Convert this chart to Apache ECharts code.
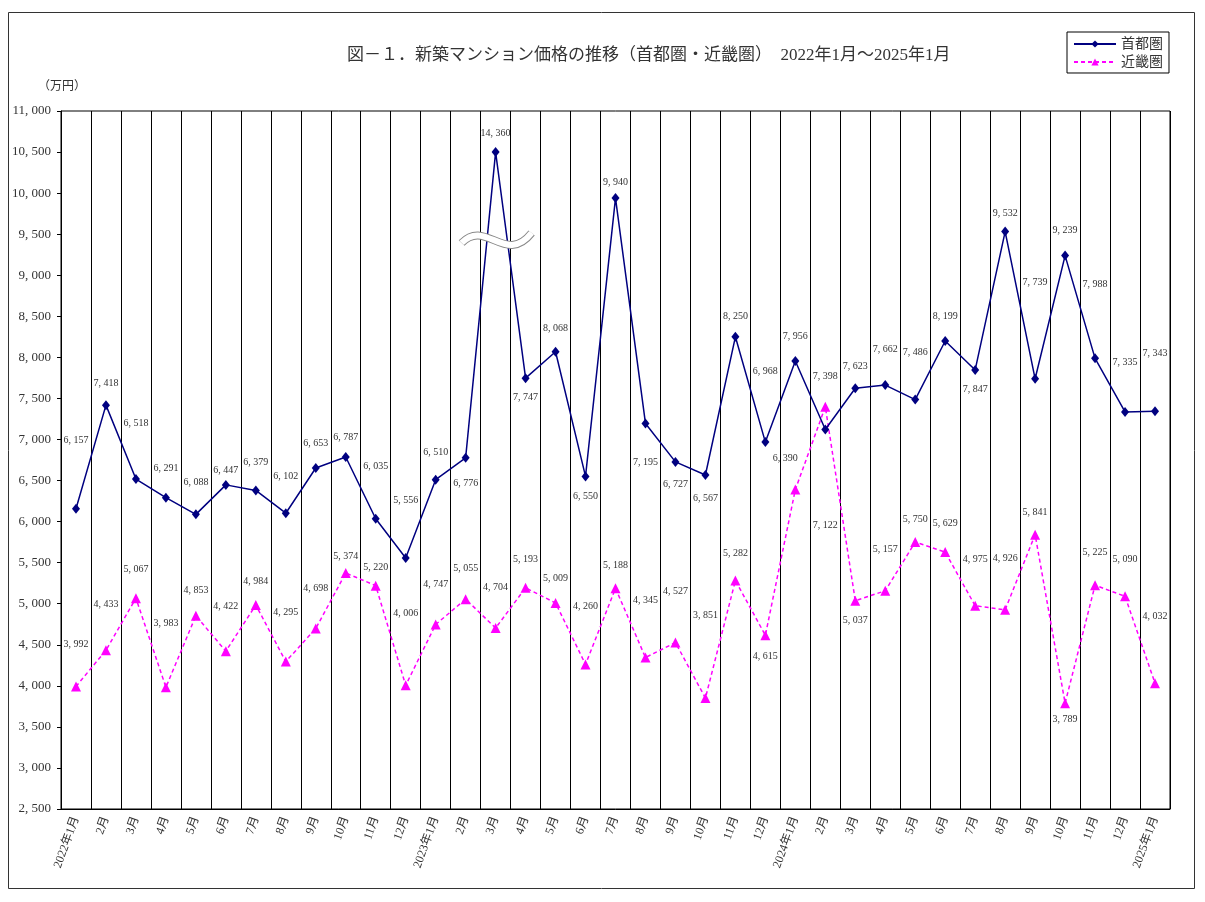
<!DOCTYPE html>
<html>
<head>
<meta charset="utf-8">
<script src="https://cdn.jsdelivr.net/npm/echarts@6/dist/echarts.min.js"></script>
<style>
  html, body { margin: 0; padding: 0; background: #fff; }
</style>
</head>
<body>
<div id="main" style="width: 1205px;height:902px;"></div>
<script>
// 月ラベル
var months = ['2022年1月', '2月', '3月', '4月', '5月', '6月', '7月', '8月', '9月', '10月', '11月', '12月',
  '2023年1月', '2月', '3月', '4月', '5月', '6月', '7月', '8月', '9月', '10月', '11月', '12月',
  '2024年1月', '2月', '3月', '4月', '5月', '6月', '7月', '8月', '9月', '10月', '11月', '12月',
  '2025年1月']

// 首都圏（万円）
var shuto = [6157, 7418, 6518, 6291, 6088, 6447, 6379, 6102, 6653, 6787, 6035, 5556,
  6510, 6776, 14360, 7747, 8068, 6550, 9940, 7195, 6727, 6567, 8250, 6968,
  7956, 7122, 7623, 7662, 7486, 8199, 7847, 9532, 7739, 9239, 7988, 7335,
  7343]

// 近畿圏（万円）
var kinki = [3992, 4433, 5067, 3983, 4853, 4422, 4984, 4295, 4698, 5374, 5220, 4006,
  4747, 5055, 4704, 5193, 5009, 4260, 5188, 4345, 4527, 3851, 5282, 4615,
  6390, 7398, 5037, 5157, 5750, 5629, 4975, 4926, 5841, 3789, 5225, 5090,
  4032]

var yTicks = { min: 2500, max: 11000, interval: 500 }
var breakAt = 10500 // 軸の上限を超える値はここで打ち切り（波線で省略）

// データラベルの縦ずらし（px）
var shutoLabelDy = [-68, -22, -56, -29, -32, -15, -28, -37, -25, -20, -52, -58,
  -27, 26, -19, 19, -23, 20, -16, 39, 22, 23, -20, -71,
  -25, 96, -22, -36, -47, -25, 19, -18, -96, -25, -74, -50, -58]
var kinkiLabelDy = [-42, -46, -29, -64, -25, -45, -24, -49, -40, -17, -18, -72,
  -40, -31, -41, -28, -25, -58, -23, -57, -51, -83, -27, 21,
  -31, -30, 20, -41, -23, -29, -46, -51, -22, 16, -33, -37, -67]
var kinkiLabelDx = { 24: -10 }

var fontFamily = '"Liberation Serif", "Noto Sans CJK JP", serif'

function fmt (v) {
  return String(v).replace(/\B(?=(\d{3})+(?!\d))/g, ', ')
}

function buildData (values, dyList, dxMap) {
  return values.map(function (v, i) {
    return {
      value: Math.min(v, breakAt),
      label: { offset: [(dxMap && dxMap[i]) || 0, dyList[i]] }
    }
  })
}

var labelBase = {
  show: true,
  position: 'inside',
  color: '#333',
  fontSize: 10,
  fontFamily: fontFamily
}

var option = {
  backgroundColor: '#fff',
  animation: false,
  title: {
    text: '図－１．新築マンション価格の推移（首都圏・近畿圏）　2022年1月～2025年1月',
    left: 342,
    top: 42,
    textStyle: {
      color: '#333',
      fontSize: 17,
      fontWeight: 'normal',
      fontFamily: fontFamily
    }
  },
  legend: {
    orient: 'vertical',
    left: 1067,
    top: 32,
    padding: [5, 6, 4, 6],
    itemGap: 4,
    itemWidth: 42,
    itemHeight: 9,
    borderColor: '#000',
    borderWidth: 1,
    borderRadius: 0,
    textStyle: { color: '#333', fontSize: 14, fontFamily: fontFamily },
    data: ['首都圏', '近畿圏']
  },
  grid: {
    left: 61,
    right: 35,
    top: 111,
    bottom: 93,
    show: true,
    borderColor: '#000',
    borderWidth: 1
  },
  xAxis: {
    type: 'category',
    data: months,
    boundaryGap: true,
    axisLine: { lineStyle: { color: '#000' } },
    axisTick: { show: false },
    splitLine: {
      show: true,
      interval: 0,
      lineStyle: { color: '#000', width: 1 }
    },
    axisLabel: {
      interval: 0,
      rotate: 70,
      margin: 8,
      color: '#333',
      fontSize: 12,
      fontFamily: fontFamily
    }
  },
  yAxis: {
    type: 'value',
    min: yTicks.min,
    max: yTicks.max,
    interval: yTicks.interval,
    axisLine: { show: true, lineStyle: { color: '#000' } },
    axisTick: { show: true, length: 4, lineStyle: { color: '#000' } },
    splitLine: { show: false },
    axisLabel: {
      margin: 10,
      color: '#333',
      fontSize: 13,
      fontFamily: fontFamily,
      formatter: function (v) { return fmt(v) }
    }
  },
  series: [
    {
      name: '近畿圏',
      type: 'line',
      data: buildData(kinki, kinkiLabelDy, kinkiLabelDx),
      symbol: 'triangle',
      symbolSize: 10,
      color: '#FF00FF',
      lineStyle: { color: '#FF00FF', width: 1.5, type: [4, 3] },
      itemStyle: { color: '#FF00FF' },
      label: Object.assign({}, labelBase, {
        formatter: function (p) { return fmt(kinki[p.dataIndex]) }
      }),
      z: 2
    },
    {
      name: '首都圏',
      type: 'line',
      data: buildData(shuto, shutoLabelDy),
      symbol: 'diamond',
      symbolSize: [8, 10],
      color: '#000080',
      lineStyle: { color: '#000080', width: 1.5 },
      itemStyle: { color: '#000080' },
      label: Object.assign({}, labelBase, {
        formatter: function (p) { return fmt(shuto[p.dataIndex]) }
      }),
      z: 3
    }
  ]
}

var myChart = echarts.init(document.getElementById('main'))
myChart.setOption(option)

// 外枠・単位・省略の波線
var brk = myChart.convertToPixel({ xAxisIndex: 0, yAxisIndex: 0 }, [14, 9430])
var wave = { x1: -34, y1: 3, cpx1: -10, cpy1: -22, cpx2: 10, cpy2: 26, x2: 36, y2: -7 }
myChart.setOption({
  graphic: [
    {
      type: 'rect',
      shape: { x: 8.5, y: 12.5, width: 1186, height: 876 },
      style: { fill: 'none', stroke: '#333', lineWidth: 1 },
      silent: true,
      z: 0
    },
    {
      type: 'text',
      left: 38,
      top: 81,
      style: { text: '（万円）', fill: '#333', fontSize: 12, fontFamily: fontFamily }
    },
    {
      type: 'bezierCurve',
      x: brk[0],
      y: brk[1],
      shape: wave,
      style: { stroke: '#888', lineWidth: 8, fill: 'none' },
      z: 100
    },
    {
      type: 'bezierCurve',
      x: brk[0],
      y: brk[1],
      shape: wave,
      style: { stroke: '#fff', lineWidth: 6, fill: 'none' },
      z: 101
    }
  ]
})
</script>
</body>
</html>
